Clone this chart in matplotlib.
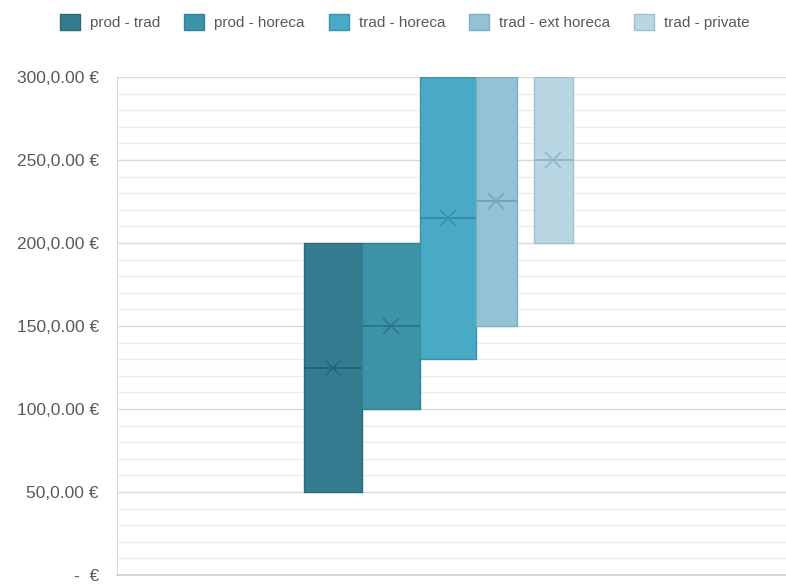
import matplotlib
matplotlib.use("Agg")
import matplotlib.pyplot as plt
from matplotlib.patches import Patch

plt.rcParams['font.family'] = ['Liberation Sans', 'DejaVu Sans']

# Box statistics per route (EUR)
series = ["prod - trad", "prod - horeca", "trad - horeca", "trad - ext horeca", "trad - private"]
q1 = [50, 100, 130, 150, 200]
q3 = [200, 200, 300, 300, 300]
median = [125, 150, 215, 225, 250]
mean = [125, 150, 215, 225, 250]

y_ticks = [0, 50, 100, 150, 200, 250, 300]
y_tick_labels = ["-  €", "50,0.00 €", "100,0.00 €", "150,0.00 €", "200,0.00 €", "250,0.00 €", "300,0.00 €"]

fill_colors = ["#347d91", "#3d93a8", "#48aac4", "#92c2d4", "#b8d7e3"]
edge_colors = ["#2b6a7b", "#32809a", "#3b93ab", "#7eaec0", "#9ec0ce"]
mark_colors = ["#2a6474", "#2f7689", "#398da4", "#74a3b5", "#93b6c4"]

# horizontal layout of the boxes (axes fraction)
centers = [0.323, 0.410, 0.495, 0.567, 0.652]
widths = [0.0867, 0.0867, 0.0840, 0.0610, 0.0580]

fig = plt.figure(figsize=(7.86, 5.84), dpi=100)
ax = fig.add_axes([117 / 786, 9 / 584, 669 / 786, 498 / 584])

ax.set_xlim(0, 1)
ax.set_ylim(0, 300)

for y in range(0, 301, 10):
    major = (y % 50 == 0)
    ax.axhline(y, color="#d9d9d9" if major else "#ededed", lw=1.0 if major else 0.9, zorder=0)

for i, name in enumerate(series):
    ax.bar(centers[i], q3[i] - q1[i], bottom=q1[i], width=widths[i],
           color=fill_colors[i], edgecolor=edge_colors[i], linewidth=1.0, zorder=2)
    ax.hlines(median[i], centers[i] - widths[i] / 2, centers[i] + widths[i] / 2,
              color=mark_colors[i], lw=1.4, zorder=3)
    ax.plot(centers[i], mean[i], marker="x", ms=11, mew=1.1, color=mark_colors[i], zorder=4)

for s in ["top", "right"]:
    ax.spines[s].set_visible(False)
ax.spines["left"].set_color("#d9d9d9")
ax.spines["bottom"].set_color("#d0d0d0")
ax.spines["bottom"].set_linewidth(1.2)

ax.set_xticks([])
ax.set_yticks(y_ticks)
ax.set_yticklabels(y_tick_labels, fontsize=12.5, color="#595959")
ax.tick_params(axis="y", length=0, pad=13)

handles = [Patch(facecolor=fill_colors[i], edgecolor=edge_colors[i], label=series[i])
           for i in range(len(series))]
fig.legend(handles=handles, loc="center", bbox_to_anchor=(405 / 786, 1 - 22 / 584), ncol=5,
           frameon=False, fontsize=11, labelcolor="#595959", handlelength=1.3, handleheight=1.3,
           handletextpad=0.65, columnspacing=1.58)

fig.savefig("out.png", dpi=100)
